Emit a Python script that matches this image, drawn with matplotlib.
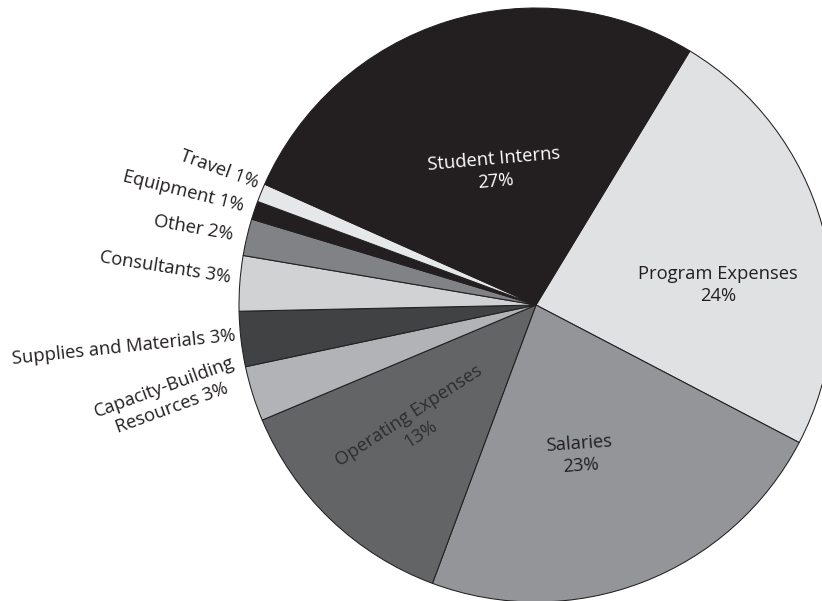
import matplotlib
matplotlib.use("Agg")
import matplotlib.pyplot as plt

# Budget shares (percent), listed clockwise from the top-right edge of the pie
categories = ["Program Expenses", "Salaries", "Operating Expenses",
              "Capacity-Building\nResources", "Supplies and Materials",
              "Consultants", "Other", "Equipment", "Travel", "Student Interns"]
shares = [24, 23, 13, 3, 3, 3, 2, 1, 1, 27]
colors = ["#e0e1e3", "#939598", "#636466", "#b1b3b6", "#414244",
          "#d1d2d4", "#808285", "#231f20", "#e6e7e8", "#231f20"]

W, H = 822, 601
fig = plt.figure(figsize=(W / 100, H / 100), dpi=100)
ax = fig.add_axes([0, 0, 1, 1])

cx, cy, radius = 536, H - 305, 297
ax.pie(shares, colors=colors, startangle=58.8, counterclock=False,
       center=(cx, cy), radius=radius,
       wedgeprops=dict(edgecolor="#231f20", linewidth=0.75))
ax.set_xlim(0, W)
ax.set_ylim(0, H)
ax.set_aspect("equal")
ax.axis("off")

FONT = "Open Sans"
SIZE = 13.2

# label placement: (x, y from top, rotation, colour, inside?)
placement = {
    "Student Interns":        (495, 170, 5, "white", True),
    "Program Expenses":       (718, 285, 0, "#231f20", True),
    "Salaries":               (580, 455, 4, "#231f20", True),
    "Operating Expenses":     (415, 425, 33, "#2e2e30", True),
    "Capacity-Building\nResources": (168, 398, 20, "#231f20", False),
    "Supplies and Materials": (124, 347, 6, "#231f20", False),
    "Consultants":            (165, 267, -9, "#231f20", False),
    "Other":                  (193, 228, -10, "#231f20", False),
    "Equipment":              (183, 191, -14, "#231f20", False),
    "Travel":                 (219, 169, -20, "#231f20", False),
}

for name, value in zip(categories, shares):
    x, y, rot, col, inside = placement[name]
    text = f"{name}\n{value}%" if inside else f"{name} {value}%"
    ax.text(x, H - y, text, rotation=rot, rotation_mode="anchor",
            ha="center", va="center", multialignment="center",
            color=col, fontsize=SIZE, family=FONT, linespacing=1.3)

fig.savefig("out.png", dpi=100)
